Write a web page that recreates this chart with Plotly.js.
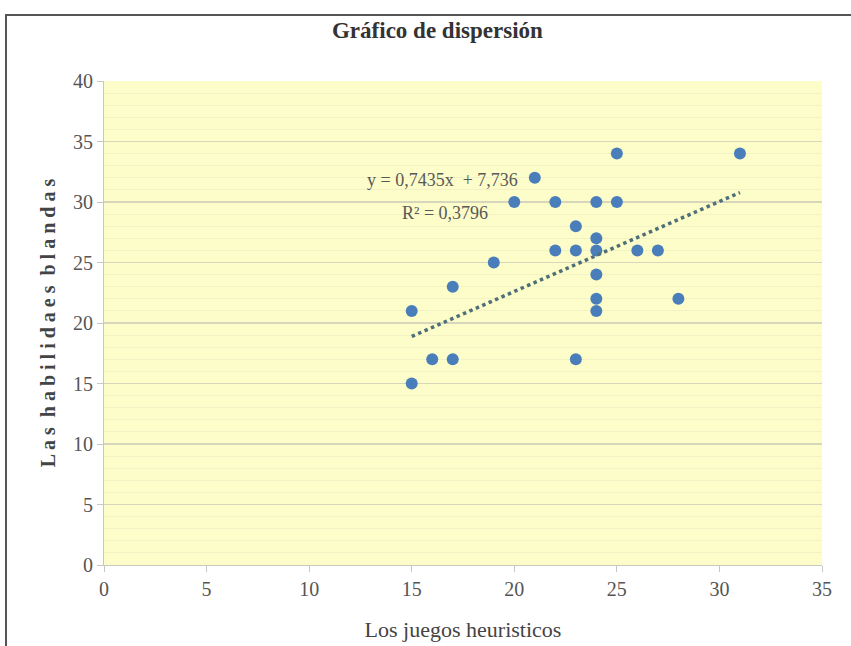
<!DOCTYPE html>
<html>
<head>
<meta charset="utf-8">
<script src="https://cdn.plot.ly/plotly-3.0.1.min.js"></script>
<style>
html,body{margin:0;padding:0;background:#fff;}
#frame{position:absolute;left:5px;top:14px;width:860px;height:650px;border-left:2px solid #555;border-top:2px solid #555;}
#chart{position:absolute;left:0;top:0;width:851px;height:646px;}
</style>
</head>
<body>
<div id="frame"></div>
<div id="chart"></div>
<script>
// Data
const juegos = [15, 15, 16, 17, 17, 19, 20, 21, 22, 22, 23, 23, 23, 24, 24, 24, 24, 24, 24, 25, 25, 26, 27, 28, 31];
const habilidades = [21, 15, 17, 23, 17, 25, 30, 32, 30, 26, 28, 26, 17, 30, 27, 26, 24, 22, 21, 34, 30, 26, 26, 22, 34];
// Trendline as given in the chart
const slope = 0.7435;
const intercept = 7.736;
const r2Text = "R² = 0,3796";
const eqText = "y = 0,7435x  + 7,736";
const xTicks = [0, 5, 10, 15, 20, 25, 30, 35];
const yTicks = [0, 5, 10, 15, 20, 25, 30, 35, 40];

const xMin = Math.min(...juegos), xMax = Math.max(...juegos);
const trendX = [xMin, xMax];
const trendY = trendX.map(x => slope * x + intercept);

const serif = "Liberation Serif, Times New Roman, serif";

const data = [
  {
    x: juegos, y: habilidades, type: 'scatter', mode: 'markers',
    marker: {color: '#4a7ebb', size: 12},
    showlegend: false, hoverinfo: 'x+y'
  },
  {
    x: trendX, y: trendY, type: 'scatter', mode: 'lines',
    line: {color: '#4f6f78', width: 3.5, dash: 'dot'},
    showlegend: false, hoverinfo: 'skip'
  }
];

const layout = {
  width: 851, height: 646,
  margin: {l: 104, r: 29, t: 81, b: 81},
  paper_bgcolor: 'rgba(0,0,0,0)',
  plot_bgcolor: '#fdfdc9',
  title: {
    text: '<b>Gráfico de dispersión</b>',
    font: {family: serif, size: 23, color: '#333'},
    x: 0.514, xanchor: 'center', y: 0.953, yanchor: 'middle'
  },
  xaxis: {
    range: [0, 35], tickvals: xTicks, ticktext: xTicks.map(String),
    showgrid: false, zeroline: false,
    showline: true, linecolor: '#c8c8c0', linewidth: 1,
    ticks: 'outside', ticklen: 6, tickcolor: '#c8c8c0',
    tickfont: {family: serif, size: 20, color: '#555'},
    title: {text: 'Los juegos heuristicos', font: {family: serif, size: 22, color: '#444'}, standoff: 22}
  },
  yaxis: {
    range: [0, 40], tickvals: yTicks, ticktext: yTicks.map(String),
    showgrid: true, gridcolor: '#d6d6bc', gridwidth: 1.5, zeroline: false,
    minor: {dtick: 1, showgrid: true, gridcolor: '#f2f2c4', gridwidth: 1},
    showline: true, linecolor: '#c8c8c0', linewidth: 1,
    ticks: 'outside', ticklen: 6, tickcolor: '#c8c8c0',
    tickfont: {family: serif, size: 20, color: '#555'},
    title: {text: '<b>L a s  h a b i l i d a e s  b l a n d a s</b>', font: {family: serif, size: 20, color: '#444'}, standoff: 12}
  },
  annotations: [
    {x: 20.3, y: 31.8, xref: 'x', yref: 'y', text: eqText, showarrow: false,
     xanchor: 'right', yanchor: 'middle', font: {family: serif, size: 18, color: '#595959'}},
    {x: 18.8, y: 29.1, xref: 'x', yref: 'y', text: r2Text, showarrow: false,
     xanchor: 'right', yanchor: 'middle', font: {family: serif, size: 18, color: '#595959'}}
  ]
};

Plotly.newPlot('chart', data, layout, {displayModeBar: false, staticPlot: true});
</script>
</body>
</html>
